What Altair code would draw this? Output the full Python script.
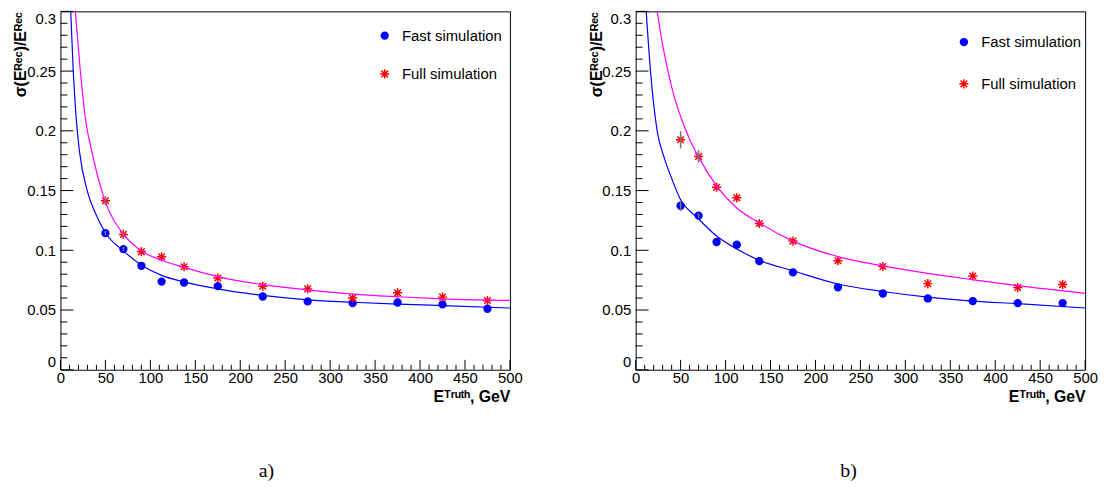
import altair as alt
import pandas as pd

# ---------------- data ----------------
E_BINS = [50, 70, 90, 112.5, 137.5, 175, 225, 275, 325, 375, 425, 475]
SERIES = ["Fast simulation", "Full simulation"]

fast_a = [0.1144, 0.101, 0.087, 0.0738, 0.073, 0.070, 0.0613, 0.0572, 0.0558, 0.0563, 0.0547, 0.0511]
full_a = [0.1415, 0.1133, 0.0989, 0.0945, 0.0862, 0.0768, 0.0699, 0.0677, 0.0600, 0.0644, 0.0608, 0.0580]
err_fast_a = [0.002, 0.0015, 0, 0, 0, 0, 0, 0, 0, 0, 0, 0]
err_full_a = [0.003, 0.002, 0, 0, 0, 0, 0, 0, 0, 0, 0, 0]

fast_b = [0.1373, 0.1290, 0.1069, 0.1047, 0.0909, 0.0815, 0.0690, 0.0638, 0.0597, 0.0575, 0.0558, 0.0558]
full_b = [0.1925, 0.1785, 0.1528, 0.1439, 0.1224, 0.1077, 0.0912, 0.0864, 0.0721, 0.0785, 0.0688, 0.0713]
err_fast_b = [0.0045, 0.002, 0, 0, 0, 0, 0, 0, 0, 0, 0, 0]
err_full_b = [0.0072, 0.0054, 0, 0, 0, 0, 0, 0, 0, 0, 0, 0]

# fitted curves (read at several energies)
fitE_fast_a = [11.4, 14.2, 16.2, 18.7, 21.3, 29.7, 38.9, 50, 70, 90, 112.5, 137.5, 175, 225, 275, 325, 375, 425, 500]
fitV_fast_a = [0.3, 0.25, 0.224, 0.2, 0.182, 0.15, 0.131, 0.1147, 0.0995, 0.0876, 0.0790, 0.0735, 0.0677, 0.0622, 0.0585, 0.0565, 0.0550, 0.0537, 0.0517]
fitE_full_a = [16.5, 22, 25, 28.6, 34.5, 38.9, 45.5, 50, 70, 90, 112.5, 137.5, 175, 225, 275, 325, 375, 425, 500]
fitV_full_a = [0.3, 0.251, 0.228, 0.206, 0.184, 0.1695, 0.151, 0.1405, 0.1135, 0.0995, 0.0917, 0.0857, 0.078, 0.0713, 0.0669, 0.0633, 0.0611, 0.0594, 0.058]

fitE_fast_b = [11.7, 16.5, 23.9, 32, 40, 49, 69, 90, 113, 137.5, 175, 225, 275, 325, 375, 425, 500]
fitV_fast_b = [0.3, 0.25, 0.2, 0.177, 0.1603, 0.1437, 0.127, 0.1119, 0.1009, 0.0917, 0.0829, 0.0718, 0.0655, 0.0608, 0.0575, 0.0553, 0.0517]
fitE_full_b = [23.9, 30, 36, 42, 50, 60, 70, 90, 112.5, 137.5, 175, 225, 275, 325, 375, 425, 500]
fitV_full_b = [0.3, 0.272, 0.25, 0.231, 0.212, 0.193, 0.178, 0.154, 0.1354, 0.1229, 0.1077, 0.0947, 0.087, 0.0807, 0.0754, 0.0704, 0.064]

X_MAJOR = [0, 50, 100, 150, 200, 250, 300, 350, 400, 450, 500]
X_MINOR = [v for v in range(0, 501, 10) if v % 50 != 0]
Y_MAJOR = [0, 0.05, 0.1, 0.15, 0.2, 0.25, 0.3]
Y_MINOR = [0.01, 0.02, 0.03, 0.04, 0.06, 0.07, 0.08, 0.09, 0.11, 0.12, 0.13, 0.14,
           0.16, 0.17, 0.18, 0.19, 0.21, 0.22, 0.23, 0.24, 0.26, 0.27, 0.28, 0.29]

# ---------------- styling ----------------
W, H = 454, 362
FONT = "Liberation Sans, Arial"
STAR = "M-1,0L1,0M0,-1L0,1M-0.72,-0.72L0.72,0.72M-0.72,0.72L0.72,-0.72"

xscale = alt.Scale(domain=[0, 500], nice=False, zero=False)
yscale = alt.Scale(domain=[0, 0.3], nice=False, zero=False)

XTITLE = "E\u1d40\u02b3\u1d58\u1d57\u02b0, GeV"
YTITLE = "\u03c3(E\u1d3f\u1d49\u1d9c)/E\u1d3f\u1d49\u1d9c"


def panel(fast, full, efast, efull, fEf, fVf, fEu, fVu, leg_x, leg_y, row_pad, lab, lab_x):
    pts = pd.DataFrame({
        "E": E_BINS * 2,
        "v": fast + full,
        "err": efast + efull,
        "series": [SERIES[0]] * len(E_BINS) + [SERIES[1]] * len(E_BINS),
    })
    pts["lo"] = pts["v"] - pts["err"]
    pts["hi"] = pts["v"] + pts["err"]
    errs = pts[pts["err"] > 0]

    curves = pd.DataFrame({
        "E": fEf + fEu,
        "v": fVf + fVu,
        "series": [SERIES[0]] * len(fEf) + [SERIES[1]] * len(fEu),
        "col": ["#0000ff"] * len(fEf) + ["#ff00ff"] * len(fEu),
    })

    xmaj = pd.DataFrame({"t": X_MAJOR})
    xmin = pd.DataFrame({"t": X_MINOR})
    ymaj = pd.DataFrame({"t": Y_MAJOR})
    ymin = pd.DataFrame({"t": Y_MINOR})

    xaxis = alt.Axis(
        values=X_MAJOR, format="d", labelFlush=False, title=XTITLE,
        titleAnchor="end", titleAlign="right", titleX=W, titleY=32, titleBaseline="alphabetic")
    yaxis = alt.Axis(
        values=Y_MAJOR, format=".2~f", labelFlush=True, title=YTITLE,
        titleAngle=270, titleAlign="right", titleX=-35, titleY=0, titleBaseline="alphabetic")

    points = alt.Chart(pts).mark_point(filled=False, strokeWidth=1.5, opacity=1).encode(
        x=alt.X("E:Q", scale=xscale, axis=xaxis),
        y=alt.Y("v:Q", scale=yscale, axis=yaxis),
        color=alt.Color("series:N", scale=alt.Scale(domain=SERIES, range=["#0000ff", "#ff0000"]),
                        legend=alt.Legend(orient="none", legendX=leg_x, legendY=leg_y, title=None,
                                          labelFont=FONT, labelFontSize=15, labelColor="black",
                                          symbolStrokeWidth=1.5, labelOffset=10,
                                          rowPadding=row_pad, padding=0)),
        fill=alt.Fill("series:N", scale=alt.Scale(domain=SERIES, range=["#0000ff", "transparent"])),
        shape=alt.Shape("series:N", scale=alt.Scale(domain=SERIES, range=["circle", STAR])),
        size=alt.Size("series:N", scale=alt.Scale(domain=SERIES, range=[48, 85])),
    )

    xt_major = alt.Chart(xmaj).mark_rule(color="black", strokeWidth=1).encode(
        x=alt.X("t:Q", scale=xscale), y=alt.value(H), y2=alt.value(H - 10))
    xt_minor = alt.Chart(xmin).mark_rule(color="black", strokeWidth=1).encode(
        x=alt.X("t:Q", scale=xscale), y=alt.value(H), y2=alt.value(H - 5))
    yt_major = alt.Chart(ymaj).mark_rule(color="black", strokeWidth=1).encode(
        y=alt.Y("t:Q", scale=yscale), x=alt.value(0), x2=alt.value(13))
    yt_minor = alt.Chart(ymin).mark_rule(color="black", strokeWidth=1).encode(
        y=alt.Y("t:Q", scale=yscale), x=alt.value(0), x2=alt.value(7))

    lines = alt.Chart(curves).mark_line(strokeWidth=1.2, interpolate="monotone", clip=True).encode(
        x=alt.X("E:Q", scale=xscale),
        y=alt.Y("v:Q", scale=yscale),
        stroke=alt.Stroke("col:N", scale=None),
        detail="series:N",
    )

    ebars = alt.Chart(errs).mark_rule(color="#7a7a7a", strokeWidth=1.5).encode(
        x=alt.X("E:Q", scale=xscale),
        y=alt.Y("lo:Q", scale=yscale),
        y2="hi:Q",
    )

    label = alt.Chart(pd.DataFrame({"lab": [lab]})).mark_text(
        font="Liberation Serif", fontSize=20, color="black", align="center", baseline="alphabetic"
    ).encode(x=alt.value(lab_x), y=alt.value(470), text="lab:N")

    return alt.layer(points, lines, ebars, xt_minor, xt_major, yt_minor, yt_major, label).properties(
        width=W, height=H)


pa = panel(fast_a, full_a, err_fast_a, err_full_a, fitE_fast_a, fitV_fast_a, fitE_full_a, fitV_full_a,
           320, 17, 21.7, "a)", 208)
pb = panel(fast_b, full_b, err_fast_b, err_full_b, fitE_fast_b, fitV_fast_b, fitE_full_b, fitV_full_b,
           324, 23.5, 25.2, "b)", 215)

chart = alt.hconcat(pa, pb, spacing=127, bounds="flush").resolve_scale(
    color="independent", fill="independent", shape="independent", size="independent"
).resolve_legend(
    color="independent", fill="independent", shape="independent", size="independent"
).properties(
    padding={"left": 4, "top": 0, "right": 0, "bottom": 0}, background="white"
).configure_view(
    stroke="black", strokeWidth=1
).configure_axis(
    grid=False, ticks=False, tickSize=0, domain=False,
    labelFont=FONT, labelFontSize=15, labelColor="black",
    titleFont=FONT, titleFontSize=16, titleFontWeight="bold", titleColor="black",
).configure_axisX(labelPadding=1).configure_axisY(labelPadding=5)

chart.save("out.html", embed_options={"renderer": "svg", "actions": False})
